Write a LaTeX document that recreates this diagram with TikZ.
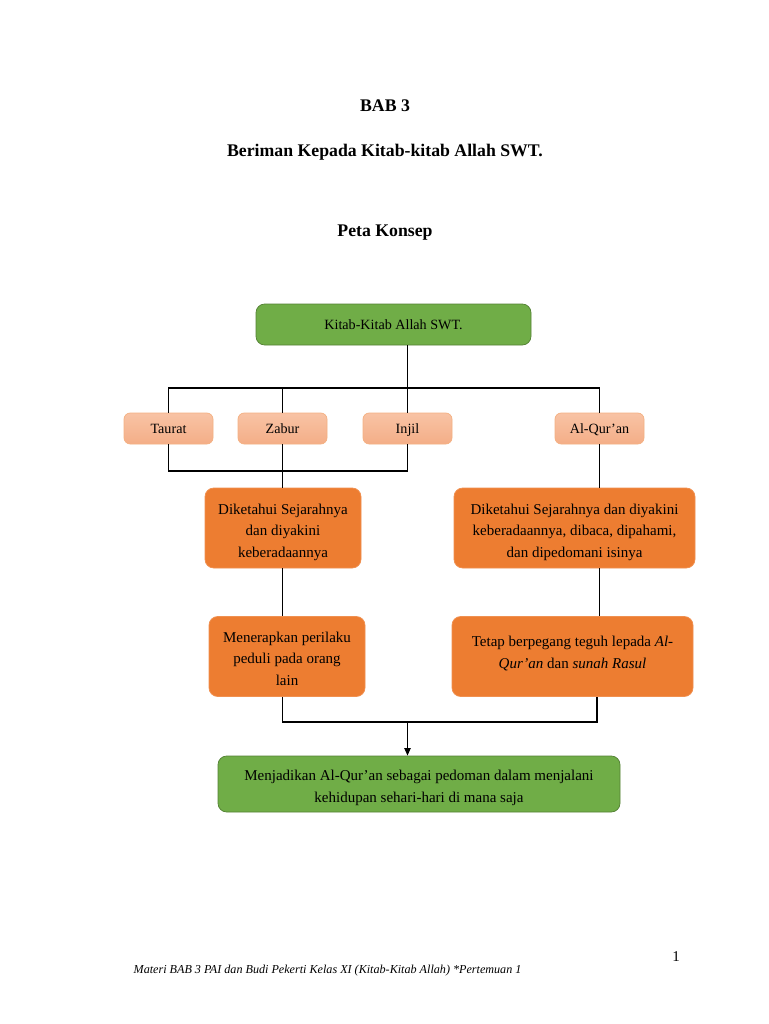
\documentclass[tikz,border=0pt]{standalone}
\usepackage{fontspec}
\setmainfont{Liberation Serif}
\usepackage{xcolor}
\usepackage{tikz}
\usetikzlibrary{arrows.meta}
\definecolor{kitabgreen}{HTML}{70AD47}
\definecolor{kitabgreenline}{HTML}{548235}
\definecolor{kitaborange}{HTML}{ED7D31}
\definecolor{kitabpeach}{HTML}{F4AE87}
\definecolor{kitabpeachtop}{HTML}{F8C3A5}
\def\px{0.8pt}
% strut to push the first line of a box a little down
\newcommand{\turun}[1]{\rule{0pt}{#1}}

\begin{document}
\begin{tikzpicture}[x=0.8pt,y=-0.8pt,line width=1.1pt]
    \tikzstyle{box}=[rounded corners=7pt,align=center,inner sep=0pt]
    \tikzstyle{green box}=[box,fill=kitabgreen,draw=kitabgreenline,line width=0.6pt]
    \tikzstyle{orange box}=[box,fill=kitaborange,draw=kitaborange!85!white,line width=0.6pt,
        minimum height=80*\px,font=\fontsize{12}{17.4}\selectfont]
    \tikzstyle{one line}=[text height=0.95em,text depth=0.17em]
    \tikzstyle{kitab box}=[box,one line,rounded corners=5pt,top color=kitabpeachtop,bottom color=kitabpeach,
        draw=kitaborange!60!white,line width=0.6pt,minimum width=89*\px,minimum height=31*\px,
        font=\fontsize{11.3}{14}\selectfont]
    \tikzstyle{title}=[font=\fontsize{14.2}{17}\selectfont\bfseries]
    \tikzstyle{thin line}=[line width=0.7pt]

    \useasboundingbox[fill=white] (0,0) rectangle (768,1024);

    % Draw the titles
    \node[title] (bab) at (385,106) {BAB 3};
    \node[title] (judul) at (385,152) {Beriman Kepada Kitab-kitab Allah SWT.};
    \node[title] (peta) at (385,233) {Peta Konsep};

    % Draw the top node
    \node[green box,one line,minimum width=275*\px,minimum height=41*\px,
        font=\fontsize{11.3}{14}\selectfont] (kitab) at (393.5,324.5) {Kitab-Kitab Allah SWT.};

    % Draw the four books
    \foreach \name / \x / \label in {taurat/168.5/Taurat, zabur/282.5/Zabur,
            injil/407.5/Injil, quran/599.5/Al-Qur'an}
        \node[kitab box] (\name) at (\x,428.5) {\label};

    % Draw the orange nodes
    \node[orange box,minimum width=156*\px] (tahu1) at (283,528)
        {\turun{15pt}Diketahui Sejarahnya\\dan diyakini\\keberadaannya};
    \node[orange box,minimum width=241*\px] (tahu2) at (574.5,528)
        {\turun{15pt}Diketahui Sejarahnya dan diyakini\\keberadaannya, dibaca, dipahami,\\dan dipedomani isinya};
    \node[orange box,minimum width=156*\px] (sikap1) at (287,656.5)
        {\turun{12pt}Menerapkan perilaku\\peduli pada orang\\lain};
    \node[orange box,minimum width=241*\px] (sikap2) at (572.5,656.5)
        {Tetap berpegang teguh lepada \textit{Al-}\\\textit{Qur'an} dan \textit{sunah Rasul}\rule[-7pt]{0pt}{0pt}};

    % Draw the bottom node
    \node[green box,minimum width=402*\px,minimum height=56*\px,
        font=\fontsize{12}{17.4}\selectfont] (tujuan) at (419,784)
        {\turun{15pt}Menjadikan Al-Qur'an sebagai pedoman dalam menjalani\\kehidupan sehari-hari di mana saja};

    % Bus lines
    \coordinate (bus) at (0,388);
    \coordinate (busbawah) at (0,471);
    \coordinate (gabung) at (0,722);

    % Connect the top node with the books
    \draw (injil.north |- kitab.south) -- (injil.north);
    \draw (taurat.north) -- (taurat.north |- bus) -- (quran.north |- bus) -- (quran.north);
    \draw (zabur.north) -- (zabur.north |- bus);
    \draw (taurat.south) -- (taurat.south |- busbawah) -- (injil.south |- busbawah) -- (injil.south);

    % Connect the books with the orange nodes
    \draw[thin line] (zabur.south) -- (zabur.south |- tahu1.north);
    \draw (quran.south) -- (quran.south |- tahu2.north);
    \draw[thin line] (zabur.south |- tahu1.south) -- (zabur.south |- sikap1.north);
    \draw (quran.south |- tahu2.south) -- (quran.south |- sikap2.north);

    % Join both sides into the bottom node
    \draw (zabur.south |- sikap1.south) -- (zabur.south |- gabung)
        -- ([xshift=-2.5*\px]quran.south |- gabung) -- ([xshift=-2.5*\px]quran.south |- sikap2.south);
    \draw[-{Triangle[length=6pt,width=5pt]}] (injil.south |- gabung) -- (injil.south |- tujuan.north);

    % Footer
    \node (halaman) at (676,957) {\fontsize{12}{14}\selectfont 1};
    \node[anchor=west,inner sep=0pt] (catatan) at (133,971)
        {\fontsize{9.7}{11}\selectfont\itshape Materi BAB 3 PAI dan Budi Pekerti Kelas XI (Kitab-Kitab Allah) *Pertemuan 1};
\end{tikzpicture}
\end{document}
